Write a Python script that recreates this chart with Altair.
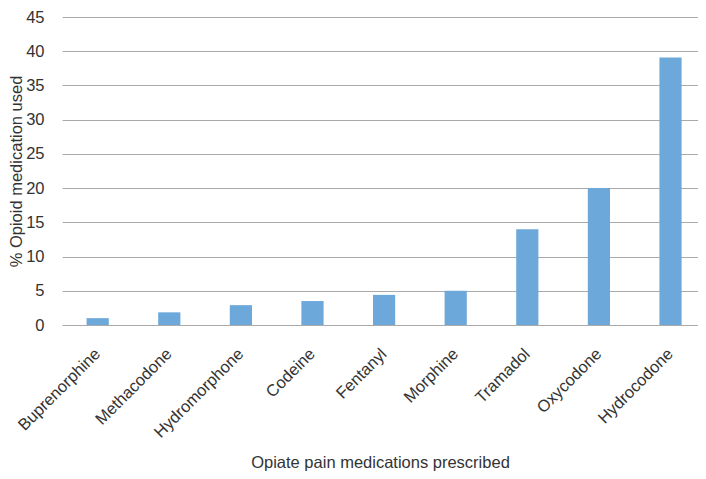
import altair as alt
import pandas as pd

drugs = ["Buprenorphine", "Methacodone", "Hydromorphone", "Codeine", "Fentanyl",
         "Morphine", "Tramadol", "Oxycodone", "Hydrocodone"]
values = [1.0, 1.85, 2.9, 3.5, 4.4, 5.0, 14.0, 20.0, 39.1]

df = pd.DataFrame({"drug": drugs, "pct": values})

FONT = "Liberation Sans"
FS = 16.5

chart = alt.Chart(df).mark_bar(color="#6ca8d9").encode(
    x=alt.X("drug:N", sort=drugs,
            scale=alt.Scale(paddingInner=0.69, paddingOuter=0.286, align=0.6),
            axis=alt.Axis(title="Opiate pain medications prescribed", labelAngle=-45,
                          labelAlign="right", labelBaseline="middle", labelPadding=26,
                          ticks=False, domain=False, labelFontSize=FS, titleFontSize=FS,
                          titleFontWeight="normal", titlePadding=14, labelColor="#333333",
                          titleColor="#333333", labelFont=FONT, titleFont=FONT)),
    y=alt.Y("pct:Q", scale=alt.Scale(domain=[0, 45], nice=False),
            axis=alt.Axis(title="% Opioid medication used", values=list(range(0, 50, 5)),
                          ticks=False, domain=False, labelPadding=18, labelFontSize=FS,
                          titleFontSize=FS, titleFontWeight="normal", titlePadding=1,
                          gridColor="#aaaaaa", gridWidth=1, labelColor="#333333",
                          titleColor="#333333", labelFont=FONT, titleFont=FONT)),
).properties(
    width=636, height=308,
    autosize=alt.AutoSizeParams(type="none"),
    padding={"left": 54, "top": 9, "right": 0, "bottom": 146},
).configure_view(stroke=None).configure_axisX(grid=False)

chart.save("out.html", embed_options={"renderer": "svg", "actions": False})
